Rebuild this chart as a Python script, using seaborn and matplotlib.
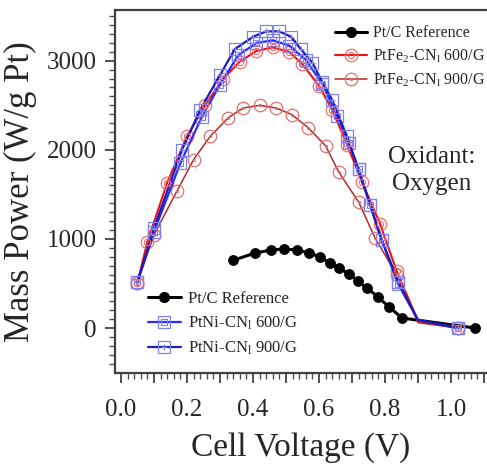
"""
Mass power vs cell voltage for PtNi / PtFe2 carbon nitride catalysts (oxygen oxidant).
"""
import pandas as pd
import numpy as np
import matplotlib
matplotlib.use("Agg")
import matplotlib.pyplot as plt
import seaborn as sns
from matplotlib.lines import Line2D
from matplotlib.ticker import MultipleLocator, FixedLocator, FuncFormatter

# Data
ptc_v = [0.34, 0.405, 0.455, 0.494, 0.533, 0.57, 0.603, 0.633, 0.661, 0.691, 0.718, 0.745, 0.779, 0.812, 0.852, 1.073]
ptc_p = [760, 840, 876, 888, 876, 843, 798, 730, 674, 607, 528, 450, 348, 236, 112, 0]

fe600_v = [0.05, 0.08, 0.14, 0.20, 0.255, 0.31, 0.36, 0.41, 0.46, 0.51, 0.55, 0.60, 0.64, 0.685, 0.73, 0.785, 0.835, 0.90, 1.02]
fe600_p = [510, 965, 1630, 2150, 2500, 2800, 2990, 3110, 3150, 3100, 2960, 2720, 2450, 2060, 1640, 1170, 640, 80, 0]

fe900_v = [0.05, 0.10, 0.17, 0.22, 0.27, 0.325, 0.37, 0.42, 0.47, 0.518, 0.567, 0.62, 0.66, 0.72, 0.77, 0.835, 0.90, 1.02]
fe900_p = [510, 1045, 1540, 1890, 2150, 2360, 2470, 2500, 2470, 2395, 2250, 2045, 1750, 1415, 1010, 600, 60, 0]

ni600_v = [0.05, 0.10, 0.18, 0.245, 0.30, 0.355, 0.41, 0.46, 0.51, 0.56, 0.61, 0.655, 0.69, 0.72, 0.755, 0.79, 0.84, 0.90, 1.02]
ni600_p = [520, 1080, 1850, 2370, 2730, 3060, 3200, 3230, 3170, 3010, 2740, 2380, 2080, 1780, 1380, 990, 490, 90, 0]

ni900_v = [0.05, 0.10, 0.185, 0.24, 0.30, 0.345, 0.40, 0.44, 0.48, 0.515, 0.545, 0.58, 0.61, 0.64, 0.685, 0.72, 0.755, 0.79, 0.84, 0.90, 1.02]
ni900_p = [520, 1120, 2000, 2450, 2840, 3130, 3270, 3330, 3330, 3270, 3130, 2980, 2760, 2560, 2150, 1780, 1380, 990, 520, 90, 0]

labels = {
    "ptc": "Pt/C Reference",
    "fe600": r"PtFe$_2$-CN$_\mathrm{l}$ 600/G",
    "fe900": r"PtFe$_2$-CN$_\mathrm{l}$ 900/G",
    "ni600": r"PtNi-CN$_\mathrm{l}$ 600/G",
    "ni900": r"PtNi-CN$_\mathrm{l}$ 900/G",
}

sns.set_style("ticks")
plt.rcParams["font.family"] = ["Liberation Serif", "DejaVu Serif"]
plt.rcParams["mathtext.fontset"] = "custom"
plt.rcParams["mathtext.rm"] = "Liberation Serif"
plt.rcParams["mathtext.it"] = "Liberation Serif:italic"

fig = plt.figure(figsize=(4.87, 4.72), dpi=100)
ax = fig.add_axes([115 / 487, 1 - 373 / 472, 372 / 487, 363 / 472])

# style of each series: line colour, outer marker, inner marker
styles = {
    "fe900": dict(color="#b22a2a", lw=1.1, marker="o", mec="#e07070", inner="."),
    "fe600": dict(color="#f01010", lw=1.5, marker="o", mec="#f07070", inner="o"),
    "ni600": dict(color="#2a2aff", lw=1.6, marker="s", mec="#8080f0", inner="s"),
    "ni900": dict(color="#1c1cb8", lw=1.6, marker="s", mec="#8080f0", inner="+"),
}
series = {
    "fe900": (fe900_v, fe900_p),
    "fe600": (fe600_v, fe600_p),
    "ni600": (ni600_v, ni600_p),
    "ni900": (ni900_v, ni900_p),
}

for key, (v, p) in series.items():
    st = styles[key]
    df = pd.DataFrame({"V": v, "P": p})
    # the bend near 0.9 V carries no visible symbol in the original
    shown = [i for i, x in enumerate(v) if abs(x - 0.90) > 1e-6]
    sns.lineplot(data=df, x="V", y="P", ax=ax, sort=False, estimator=None,
                 color=st["color"], lw=st["lw"], marker=st["marker"], ms=9,
                 mfc="none", mec=st["mec"], mew=0.9, markevery=shown, zorder=3)
    sns.lineplot(data=df, x="V", y="P", ax=ax, sort=False, estimator=None,
                 linestyle="none", marker=st["inner"],
                 ms=4.5 if st["inner"] != "." else 3, markevery=shown,
                 mfc="none", mec=st["mec"], mew=0.8, zorder=4)

df_ptc = pd.DataFrame({"V": ptc_v, "P": ptc_p})
sns.lineplot(data=df_ptc, x="V", y="P", ax=ax, sort=False, estimator=None,
             color="black", lw=2.2, marker="o", ms=7, mfc="black", mec="black", zorder=2)

ax.set_xlim(-0.018, 1.109)
ax.set_ylim(-505, 3570)

ax.xaxis.set_major_locator(MultipleLocator(0.1))
ax.xaxis.set_major_formatter(FuncFormatter(
    lambda x, pos: "%.1f" % x if int(round(x * 10)) % 2 == 0 else ""))
ax.xaxis.set_minor_locator(MultipleLocator(0.02))
ax.yaxis.set_major_locator(FixedLocator([0, 1000, 2000, 3000]))
ax.yaxis.set_minor_locator(FixedLocator(np.arange(-400, 3600, 100)))

ax.tick_params(axis="both", which="major", direction="out", length=7, width=1.4,
               color="#505050", labelsize=18)
ax.tick_params(axis="both", which="minor", direction="out", length=4, width=1.0,
               color="#505050")
ax.tick_params(axis="x", which="major", pad=12)
ax.tick_params(axis="y", which="major", pad=6)

for side in ["left", "bottom", "top"]:
    ax.spines[side].set_linewidth(1.6)
    ax.spines[side].set_color("#404040")
ax.spines["right"].set_visible(False)

ax.set_xlabel("Cell Voltage (V)", fontsize=24, labelpad=8)
ax.set_ylabel("Mass Power (W/g Pt)", fontsize=25, labelpad=7)

ax.text(0.94, 1765, "Oxidant:\nOxygen", fontsize=18, ha="center", va="center",
        linespacing=1.3)


def handle(key):
    st = styles[key]
    outer = Line2D([], [], color=st["color"], lw=st["lw"], marker=st["marker"], ms=9,
                   mfc="none", mec=st["mec"], mew=0.9)
    inner = Line2D([], [], linestyle="none", marker=st["inner"],
                   ms=4.5 if st["inner"] != "." else 3, mfc="none", mec=st["mec"], mew=0.8)
    return (outer, inner)


ptc_handle = Line2D([], [], color="black", lw=2.2, marker="o", ms=7, mfc="black", mec="black")

leg_top = ax.legend([ptc_handle, handle("fe600"), handle("fe900")],
                    [labels["ptc"], labels["fe600"], labels["fe900"]],
                    loc="upper left", bbox_to_anchor=(0.574, 0.975), frameon=False,
                    fontsize=11.5, handlelength=2.0, handletextpad=0.4,
                    labelspacing=0.4, borderaxespad=0)
ax.add_artist(leg_top)
ax.legend([ptc_handle, handle("ni600"), handle("ni900")],
          [labels["ptc"], labels["ni600"], labels["ni900"]],
          loc="upper left", bbox_to_anchor=(0.07, 0.244), frameon=False,
          fontsize=12, handlelength=2.0, handletextpad=0.4,
          labelspacing=0.45, borderaxespad=0)

fig.savefig("out.png", dpi=100)
